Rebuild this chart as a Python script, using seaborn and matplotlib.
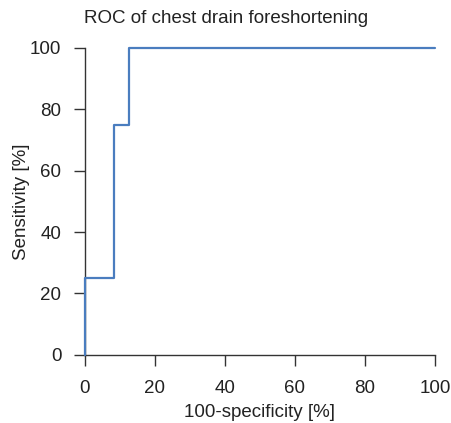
import pandas as pd
import matplotlib
matplotlib.use("Agg")
import matplotlib.pyplot as plt
import seaborn as sns

# ROC points (100-specificity vs sensitivity), in %
fpr = [0, 0, 8.33, 12.5, 100]
tpr = [0, 25, 75, 100, 100]
x_ticks = [0, 20, 40, 60, 80, 100]
y_ticks = [0, 20, 40, 60, 80, 100]

df = pd.DataFrame({"fpr": fpr, "tpr": tpr})

sns.set_style("ticks")
plt.rcParams["font.family"] = ["Liberation Sans", "DejaVu Sans"]

fig = plt.figure(figsize=(4.52, 4.23), dpi=100)
ax = fig.add_axes([0.188, 0.161, 0.774, 0.726])

sns.lineplot(data=df, x="fpr", y="tpr", sort=False, estimator=None,
             drawstyle="steps-post", color="#4a7dbf", linewidth=1.6,
             ax=ax, clip_on=False, zorder=5)

ax.set_xlim(0, 100)
ax.set_ylim(0, 100)
ax.set_xticks(x_ticks)
ax.set_yticks(y_ticks)
ax.tick_params(labelsize=13.5, length=8, width=1, color="#333333",
               labelcolor="#222222")
ax.tick_params(axis="x", pad=10)
ax.tick_params(axis="y", pad=9)
for s in ["left", "bottom"]:
    ax.spines[s].set_color("#333333")
    ax.spines[s].set_linewidth(1)
sns.despine(ax=ax)

ax.set_xlabel("100-specificity [%]", fontsize=13.5, color="#222222", labelpad=5)
ax.set_ylabel("Sensitivity [%]", fontsize=13.5, color="#222222", labelpad=0)
fig.text(0.5, 0.957, "ROC of chest drain foreshortening", ha="center",
         va="center", fontsize=13.5, color="#222222")

fig.savefig("out.png", dpi=100)
